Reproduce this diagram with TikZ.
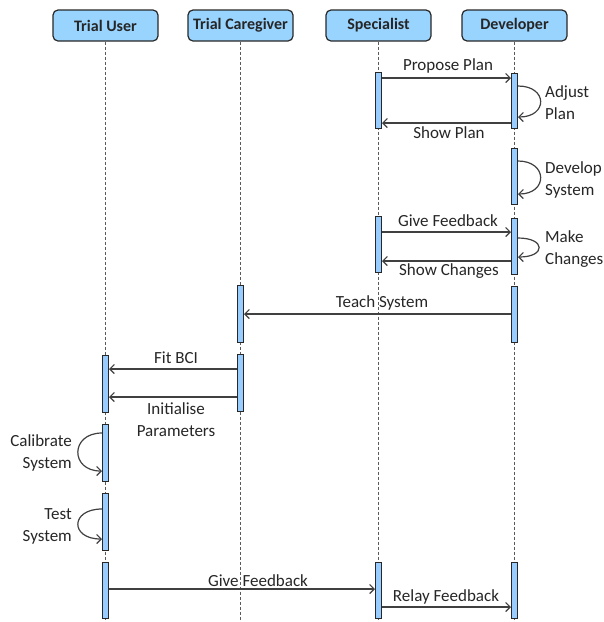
\documentclass[tikz,border=0pt]{standalone}
\usepackage{fontspec}
\setmainfont{Carlito}
\usetikzlibrary{arrows.meta}
\definecolor{boxblue}{RGB}{153,212,255}
\definecolor{barblue}{RGB}{153,204,255}
\definecolor{edgecol}{RGB}{40,40,40}
\definecolor{msgline}{RGB}{64,64,64}
\definecolor{lifegray}{RGB}{90,90,90}
\tikzset{
  actor/.style={draw=edgecol, line width=1.2pt, fill=boxblue, rounded corners=5pt,
    minimum width=105pt, minimum height=31pt, inner sep=0pt,
    font=\fontsize{16}{19}\selectfont\bfseries, text=black!85},
  lifeline/.style={draw=lifegray, line width=1pt, dash pattern=on 3pt off 2pt},
  actbar/.style={draw=edgecol, line width=1pt, fill=barblue, minimum width=6pt,
    inner sep=0pt, anchor=north},
  msg/.style={draw=msgline, line width=1.2pt, -{Straight Barb[length=4.5pt,width=9pt]}},
  lbl/.style={font=\fontsize{17}{22}\selectfont, text=black!85, inner sep=0pt},
}
% activation bar: name, x, top, bottom
\newcommand\actbarnode[4]{\node[actbar, minimum height={#4pt-#3pt}] (#1) at (#2,#3) {};}
\begin{document}
\begin{tikzpicture}[x=1pt, y=-1pt]
\useasboundingbox (0,0) rectangle (604,622);

% participants
\node[actor] (tu) at (105.5,25.5) {Trial User};
\node[actor] (cg) at (240.5,25.5) {Trial Caregiver};
\node[actor] (sp) at (378.5,25.5) {Specialist};
\node[actor] (dv) at (514.5,25.5) {Developer};

% lifelines
\foreach \p in {tu,cg,sp,dv}
  \draw[lifeline] (\p.south) -- (\p.south |- 0,622);

% activation bars
\actbarnode{sp1}{378.5}{72}{128}
\actbarnode{dv1}{514.5}{73}{128}
\actbarnode{dv2}{514.5}{148}{204}
\actbarnode{sp2}{378.5}{216}{272}
\actbarnode{dv3}{514.5}{218}{274}
\actbarnode{dv4}{514.5}{286}{342}
\actbarnode{cg1}{240.5}{285}{342}
\actbarnode{cg2}{240.5}{354}{411}
\actbarnode{tu1}{105.5}{355}{412}
\actbarnode{tu2}{105.5}{424}{481}
\actbarnode{tu3}{105.5}{493}{550}
\actbarnode{tu4}{105.5}{562}{618}
\actbarnode{sp3}{378.5}{562}{618}
\actbarnode{dv5}{514.5}{562}{618}

% plan
\draw[msg] (sp1.east |- 0,78) -- (dv1.west |- 0,78);
\node[lbl] (pp) at (448,66) {Propose Plan};
\draw[msg] (dv1.east |- 0,86) .. controls (548,86) and (548,117) .. (dv1.east |- 0,117);
\node[lbl, anchor=west, align=left] (ap) at (545,103) {Adjust\\Plan};
\draw[msg] (dv1.west |- 0,123) -- (sp1.east |- 0,123);
\node[lbl] (shp) at (449,133) {Show Plan};

% development
\draw[msg] (dv2.east |- 0,161) .. controls (548,161) and (548,194) .. (dv2.east |- 0,194);
\node[lbl, anchor=west, align=left] (ds) at (545,180) {Develop\\System};

% feedback round
\draw[msg] (sp2.east |- 0,232) -- (dv3.west |- 0,232);
\node[lbl] (gf1) at (448,221) {Give Feedback};
\draw[msg] (dv3.east |- 0,238) .. controls (546,238) and (546,257) .. (dv3.east |- 0,257);
\node[lbl, anchor=west, align=left] (mc) at (545,249) {Make\\Changes};
\draw[msg] (dv3.west |- 0,261) -- (sp2.east |- 0,261);
\node[lbl] (sc) at (449,271) {Show Changes};

% training
\draw[msg] (dv4.west |- 0,314) -- (cg1.east |- 0,314);
\node[lbl] (ts) at (382,303) {Teach System};

% fitting
\draw[msg] (cg2.west |- 0,369) -- (tu1.east |- 0,369);
\node[lbl] (fb) at (176,358) {Fit BCI};
\draw[msg] (cg2.west |- 0,397) -- (tu1.east |- 0,397);
\node[lbl, align=center] (ip) at (176,420) {Initialise\\Parameters};

% calibration and test
\draw[msg] (tu2.west |- 0,433) .. controls (70,433) and (70,471) .. (tu2.west |- 0,471);
\node[lbl, anchor=east, align=right] (cs) at (72,453) {Calibrate\\System};
\draw[msg] (tu3.west |- 0,509) .. controls (70,509) and (70,539) .. (tu3.west |- 0,539);
\node[lbl, anchor=east, align=right] (tsy) at (72,526) {Test\\System};

% final feedback
\draw[msg] (tu4.east |- 0,589) -- (sp3.west |- 0,589);
\node[lbl] (gf2) at (258,581) {Give Feedback};
\draw[msg] (sp3.east |- 0,607) -- (dv5.west |- 0,607);
\node[lbl] (rf) at (446,597) {Relay Feedback};
\end{tikzpicture}
\end{document}
